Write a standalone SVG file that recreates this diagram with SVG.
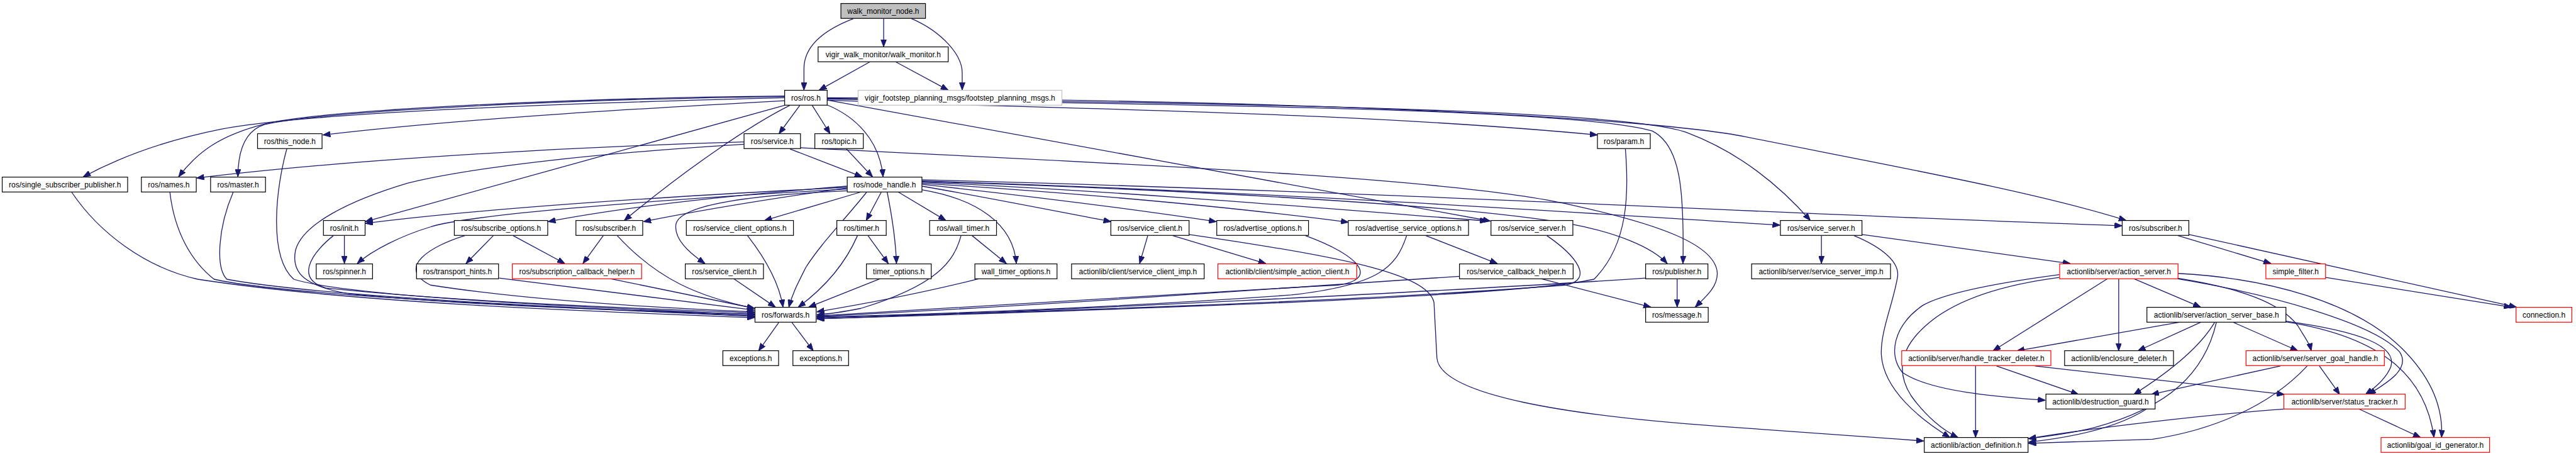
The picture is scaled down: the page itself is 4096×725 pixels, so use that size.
<svg xmlns="http://www.w3.org/2000/svg" width="4096" height="725" viewBox="0 0 4096 725">
<defs>
<style>
.e{fill:none;stroke:#191970;stroke-width:1.4;marker-end:url(#ah)}
.n rect{fill:#fff;stroke:#000;stroke-width:1.3}
.n.r rect{stroke:#ff0000}
.n.g rect{stroke:#bfbfbf}
.n.f rect{fill:#bfbfbf}
.n text{font-family:"Liberation Sans",Arial,sans-serif;font-size:13px;text-anchor:middle;fill:#000}
</style>
<marker id="ah" markerUnits="userSpaceOnUse" markerWidth="13" markerHeight="10" refX="13" refY="5" orient="auto"><path d="M0,0 L13,5 L0,10 z" fill="#191970" stroke="#191970" stroke-width="1"/></marker>
</defs>
<rect width="4096" height="725" fill="#fff"/>
<g transform="scale(0.925)">
<g id="edges">
<path class="e" d="M1467,32 C1415,52 1382,80 1382,118 L1382,155"/>
<path class="e" d="M1519,32 L1519,80.6"/>
<path class="e" d="M1567,32 C1620,55 1654,95 1654,125 L1654,155"/>
<path class="e" d="M1496,106 L1408,155"/>
<path class="e" d="M1539,106 L1630,155"/>
<path class="e" d="M1349,173 C1000,192 760,208 555,232"/>
<path class="e" d="M1349,168 C950,178 520,195 380,222 C290,240 210,268 143,304"/>
<path class="e" d="M1349,165 C1000,168 560,188 455,213 C380,232 340,260 307,304"/>
<path class="e" d="M1349,166 C1000,170 560,190 455,214 C420,225 409,260 409,304"/>
<path class="e" d="M1349,181 L628,381"/>
<path class="e" d="M1358,181 C1290,215 1180,290 1073,379"/>
<path class="e" d="M1375,181 L1339,230"/>
<path class="e" d="M1396,181 L1427,230"/>
<path class="e" d="M1421,180 C1470,200 1512,240 1518,304"/>
<path class="e" d="M1422,172 C1800,188 2300,190 2746,232"/>
<path class="e" d="M1422,170 C2000,180 2700,185 2840,225 C2890,250 2895,330 2893,453"/>
<path class="e" d="M1422,172 L2562,380"/>
<path class="e" d="M1422,169 C2200,178 2800,190 2900,228 C2990,262 3060,320 3112,379"/>
<path class="e" d="M1422,168 C2300,172 2850,205 3000,235 C3250,285 3500,330 3655,379"/>
<path class="e" d="M1358,256 L1482,304"/>
<path class="e" d="M1279,244 C1000,252 620,272 338,306"/>
<path class="e" d="M1279,248 C1000,265 800,290 700,315 C600,345 520,385 508,430 C500,470 525,492 600,505 C800,525 1100,535 1297,540"/>
<path class="e" d="M1376,254 C1900,280 2500,305 2700,352 C2850,385 2950,420 2952,470 C2952,495 2930,512 2914,528"/>
<path class="e" d="M1455,256 L1500,304"/>
<path class="e" d="M1456,322 C1100,340 800,362 628,384"/>
<path class="e" d="M1456,325 C1100,345 800,370 740,390 C690,405 640,430 614,453"/>
<path class="e" d="M1456,320 C1200,340 1050,360 942,381"/>
<path class="e" d="M1456,323 C1300,345 1200,362 1106,381"/>
<path class="e" d="M1480,330 L1314,379"/>
<path class="e" d="M1456,328 C1300,335 1170,350 1162,385 C1158,410 1185,435 1212,453"/>
<path class="e" d="M1490,330 C1450,380 1410,420 1385,460 C1370,490 1362,505 1356,528"/>
<path class="e" d="M1515,330 L1489,379"/>
<path class="e" d="M1525,330 C1535,380 1540,420 1541,453"/>
<path class="e" d="M1544,330 L1626,379"/>
<path class="e" d="M1584,326 C1680,342 1742,385 1747,453"/>
<path class="e" d="M1585,320 C1700,340 1800,360 1910,381"/>
<path class="e" d="M1585,317 C1800,340 1950,360 2091,381"/>
<path class="e" d="M1585,315 C1900,335 2150,360 2318,382"/>
<path class="e" d="M1585,313 C1950,330 2300,360 2557,380"/>
<path class="e" d="M1585,311 C2200,330 2700,365 3060,387"/>
<path class="e" d="M1585,309 C2400,330 3100,370 3648,388"/>
<path class="e" d="M1585,312 C2000,325 2500,350 2700,385 C2780,400 2840,425 2866,453"/>
<path class="e" d="M592,405 L592,453"/>
<path class="e" d="M848,405 L801,453"/>
<path class="e" d="M882,405 L971,453"/>
<path class="e" d="M1037,405 L1002,453"/>
<path class="e" d="M1492,405 L1527,453"/>
<path class="e" d="M1671,405 L1730,453"/>
<path class="e" d="M1973,405 L1959,453"/>
<path class="e" d="M2016,405 L2176,453"/>
<path class="e" d="M2044,403 C2300,440 2455,470 2465,520 L2470,615 C2475,680 2700,715 2960,733 C3100,743 3200,750 3307,758"/>
<path class="e" d="M2451,405 L2574,453"/>
<path class="e" d="M2649,479 L2838,528"/>
<path class="e" d="M2883,479 L2883,528"/>
<path class="e" d="M3131,405 L3131,453"/>
<path class="e" d="M3201,403 L3559,453"/>
<path class="e" d="M3187,405 C3235,425 3265,450 3262,475 C3255,520 3232,570 3234,610 C3238,670 3300,720 3352,752"/>
<path class="e" d="M3744,405 L3904,453"/>
<path class="e" d="M3763,403 L4326,528"/>
<path class="e" d="M3998,477 L4317,528"/>
<path class="e" d="M3540,472 C3420,488 3340,505 3305,525 C3255,560 3245,610 3270,640 C3320,675 3450,683 3516,688"/>
<path class="e" d="M3540,477 C3440,490 3360,515 3310,560 C3265,600 3260,640 3285,680 C3310,715 3340,740 3366,752"/>
<path class="e" d="M3623,479 L3426,603"/>
<path class="e" d="M3642,479 L3642,603"/>
<path class="e" d="M3668,479 L3783,528"/>
<path class="e" d="M3744,470 C3900,478 4050,520 4130,600 C4180,650 4200,700 4197,752"/>
<path class="e" d="M3742,478 C3850,495 3920,520 3950,560 C3962,580 3970,590 3973,603"/>
<path class="e" d="M3742,479 C3900,505 4080,555 4125,605 C4145,635 4100,660 4071,678"/>
<path class="e" d="M3746,554 L3467,603"/>
<path class="e" d="M3783,554 L3675,603"/>
<path class="e" d="M3807,554 C3780,600 3720,645 3668,678"/>
<path class="e" d="M3810,554 C3790,640 3730,700 3600,735 C3560,745 3520,750 3487,754"/>
<path class="e" d="M3929,553 C4100,580 4170,650 4184,752"/>
<path class="e" d="M3929,552 C4060,570 4120,595 4110,630 C4102,650 4085,665 4066,678"/>
<path class="e" d="M3839,554 L3950,603"/>
<path class="e" d="M3920,629 L3698,678"/>
<path class="e" d="M3966,629 C3900,700 3800,740 3700,755 L3487,762"/>
<path class="e" d="M3987,629 L4022,678"/>
<path class="e" d="M3927,703 C3800,712 3600,735 3487,754"/>
<path class="e" d="M4055,703 L4161,752"/>
<path class="e" d="M3396,629 L3396,752"/>
<path class="e" d="M3432,629 L3573,678"/>
<path class="e" d="M3498,629 L3927,678"/>
<path class="e" d="M3690,703 C3640,735 3560,752 3487,760"/>
<path class="e" d="M123,330 C170,400 250,460 340,480 C600,520 1000,535 1297,546"/>
<path class="e" d="M292,330 C300,400 330,450 368,480 C500,510 1000,530 1297,544"/>
<path class="e" d="M401,330 C375,390 370,460 390,480 C550,510 1000,530 1297,543"/>
<path class="e" d="M493,256 C475,320 460,440 505,480 C600,510 1000,528 1297,541"/>
<path class="e" d="M573,405 C530,440 510,480 560,495 C800,520 1100,530 1297,538"/>
<path class="e" d="M799,405 C740,423 680,460 740,490 C900,515 1100,528 1297,536"/>
<path class="e" d="M858,478 L1297,533"/>
<path class="e" d="M1049,479 L1297,530"/>
<path class="e" d="M1061,405 C1130,480 1200,510 1297,530"/>
<path class="e" d="M1261,479 L1333,528"/>
<path class="e" d="M1285,405 C1320,450 1340,490 1346,528"/>
<path class="e" d="M1474,405 C1450,460 1410,500 1372,528"/>
<path class="e" d="M1513,479 L1390,528"/>
<path class="e" d="M1652,405 C1640,450 1610,490 1480,530 C1440,538 1420,540 1404,541"/>
<path class="e" d="M1683,479 C1600,500 1500,520 1404,536"/>
<path class="e" d="M2244,405 C2340,440 2370,480 2300,490 C2000,505 1700,525 1404,543"/>
<path class="e" d="M2418,405 C2400,460 2370,490 2220,507 C1900,530 1600,540 1404,545"/>
<path class="e" d="M2509,475 C2200,495 1800,525 1404,544"/>
<path class="e" d="M2659,405 C2710,440 2740,480 2692,490 C2300,520 1800,535 1404,546"/>
<path class="e" d="M2794,256 C2800,330 2800,420 2740,480 C2600,510 2000,530 1404,548"/>
<path class="e" d="M2829,478 C2500,500 1800,535 1404,548"/>
<path class="e" d="M1339,554 L1304,603"/>
<path class="e" d="M1361,554 L1398,603"/>
</g>
<g id="nodes">
<g id="n0" class="n f"><rect x="1445.5" y="6" width="145.4" height="25.6"/><text x="1518.2" y="23.5">walk_monitor_node.h</text></g>
<g id="n1" class="n"><rect x="1406.3" y="80.6" width="223.7" height="25.6"/><text x="1518.2" y="98.1">vigir_walk_monitor/walk_monitor.h</text></g>
<g id="n2" class="n"><rect x="1348.8" y="155.2" width="73.1" height="25.6"/><text x="1385.4" y="172.7">ros/ros.h</text></g>
<g id="n3" class="n g"><rect x="1475" y="155.2" width="350.4" height="25.6"/><text x="1650.2" y="172.7">vigir_footstep_planning_msgs/footstep_planning_msgs.h</text></g>
<g id="n4" class="n"><rect x="442.7" y="229.8" width="110.9" height="25.6"/><text x="498.2" y="247.3">ros/this_node.h</text></g>
<g id="n5" class="n"><rect x="1279" y="229.8" width="97" height="25.6"/><text x="1327.5" y="247.3">ros/service.h</text></g>
<g id="n6" class="n"><rect x="1400.7" y="229.8" width="83.3" height="25.6"/><text x="1442.4" y="247.3">ros/topic.h</text></g>
<g id="n7" class="n"><rect x="2746" y="229.8" width="90.8" height="25.6"/><text x="2791.4" y="247.3">ros/param.h</text></g>
<g id="n8" class="n"><rect x="3.8" y="304.4" width="215.6" height="25.6"/><text x="111.6" y="321.9">ros/single_subscriber_publisher.h</text></g>
<g id="n9" class="n"><rect x="243" y="304.4" width="94.4" height="25.6"/><text x="290.2" y="321.9">ros/names.h</text></g>
<g id="n10" class="n"><rect x="362" y="304.4" width="94.4" height="25.6"/><text x="409.2" y="321.9">ros/master.h</text></g>
<g id="n11" class="n"><rect x="1456.4" y="304.4" width="128.4" height="25.6"/><text x="1520.6" y="321.9">ros/node_handle.h</text></g>
<g id="n12" class="n"><rect x="556" y="379" width="71.6" height="25.6"/><text x="591.8" y="396.5">ros/init.h</text></g>
<g id="n13" class="n"><rect x="781" y="379" width="160.5" height="25.6"/><text x="861.3" y="396.5">ros/subscribe_options.h</text></g>
<g id="n14" class="n"><rect x="990" y="379" width="114.8" height="25.6"/><text x="1047.4" y="396.5">ros/subscriber.h</text></g>
<g id="n15" class="n"><rect x="1179.8" y="379" width="184.1" height="25.6"/><text x="1271.9" y="396.5">ros/service_client_options.h</text></g>
<g id="n16" class="n"><rect x="1438.5" y="379" width="84.9" height="25.6"/><text x="1481" y="396.5">ros/timer.h</text></g>
<g id="n17" class="n"><rect x="1598" y="379" width="115" height="25.6"/><text x="1655.5" y="396.5">ros/wall_timer.h</text></g>
<g id="n18" class="n"><rect x="1909.5" y="379" width="134.5" height="25.6"/><text x="1976.8" y="396.5">ros/service_client.h</text></g>
<g id="n19" class="n"><rect x="2091.6" y="379" width="157.7" height="25.6"/><text x="2170.5" y="396.5">ros/advertise_options.h</text></g>
<g id="n20" class="n"><rect x="2317.7" y="379" width="206.7" height="25.6"/><text x="2421.1" y="396.5">ros/advertise_service_options.h</text></g>
<g id="n21" class="n"><rect x="2563" y="379" width="140.7" height="25.6"/><text x="2633.4" y="396.5">ros/service_server.h</text></g>
<g id="n22" class="n"><rect x="3060.5" y="379" width="140.2" height="25.6"/><text x="3130.6" y="396.5">ros/service_server.h</text></g>
<g id="n23" class="n"><rect x="3648" y="379" width="114.6" height="25.6"/><text x="3705.3" y="396.5">ros/subscriber.h</text></g>
<g id="n24" class="n"><rect x="543.6" y="453.6" width="96.8" height="25.6"/><text x="592" y="471.1">ros/spinner.h</text></g>
<g id="n25" class="n"><rect x="716" y="453.6" width="141" height="25.6"/><text x="786.5" y="471.1">ros/transport_hints.h</text></g>
<g id="n26" class="n r"><rect x="880.6" y="453.6" width="222.3" height="25.6"/><text x="991.8" y="471.1">ros/subscription_callback_helper.h</text></g>
<g id="n27" class="n"><rect x="1178" y="453.6" width="134.4" height="25.6"/><text x="1245.2" y="471.1">ros/service_client.h</text></g>
<g id="n28" class="n"><rect x="1489.4" y="453.6" width="111.4" height="25.6"/><text x="1545.1" y="471.1">timer_options.h</text></g>
<g id="n29" class="n"><rect x="1675.8" y="453.6" width="141.2" height="25.6"/><text x="1746.4" y="471.1">wall_timer_options.h</text></g>
<g id="n30" class="n"><rect x="1842" y="453.6" width="228" height="25.6"/><text x="1956" y="471.1">actionlib/client/service_client_imp.h</text></g>
<g id="n31" class="n r"><rect x="2093.5" y="453.6" width="238.8" height="25.6"/><text x="2212.9" y="471.1">actionlib/client/simple_action_client.h</text></g>
<g id="n32" class="n"><rect x="2508.8" y="453.6" width="195.4" height="25.6"/><text x="2606.5" y="471.1">ros/service_callback_helper.h</text></g>
<g id="n33" class="n"><rect x="2828.8" y="453.6" width="107.1" height="25.6"/><text x="2882.4" y="471.1">ros/publisher.h</text></g>
<g id="n34" class="n"><rect x="3011" y="453.6" width="238.8" height="25.6"/><text x="3130.4" y="471.1">actionlib/server/service_server_imp.h</text></g>
<g id="n35" class="n r"><rect x="3540.5" y="453.6" width="203.5" height="25.6"/><text x="3642.3" y="471.1">actionlib/server/action_server.h</text></g>
<g id="n36" class="n r"><rect x="3895" y="453.6" width="102.6" height="25.6"/><text x="3946.3" y="471.1">simple_filter.h</text></g>
<g id="n37" class="n"><rect x="1297.8" y="528.2" width="105.2" height="25.6"/><text x="1350.4" y="545.7">ros/forwards.h</text></g>
<g id="n38" class="n"><rect x="2828.8" y="528.2" width="107.6" height="25.6"/><text x="2882.6" y="545.7">ros/message.h</text></g>
<g id="n39" class="n"><rect x="3690.5" y="528.2" width="239" height="25.6"/><text x="3810" y="545.7">actionlib/server/action_server_base.h</text></g>
<g id="n40" class="n r"><rect x="4325" y="528.2" width="96" height="25.6"/><text x="4373" y="545.7">connection.h</text></g>
<g id="n41" class="n"><rect x="1242.6" y="602.8" width="95.8" height="25.6"/><text x="1290.5" y="620.3">exceptions.h</text></g>
<g id="n42" class="n"><rect x="1363" y="602.8" width="95.7" height="25.6"/><text x="1410.9" y="620.3">exceptions.h</text></g>
<g id="n43" class="n r"><rect x="3269" y="602.8" width="256.4" height="25.6"/><text x="3397.2" y="620.3">actionlib/server/handle_tracker_deleter.h</text></g>
<g id="n44" class="n"><rect x="3549" y="602.8" width="187.2" height="25.6"/><text x="3642.6" y="620.3">actionlib/enclosure_deleter.h</text></g>
<g id="n45" class="n r"><rect x="3860.9" y="602.8" width="237.8" height="25.6"/><text x="3979.8" y="620.3">actionlib/server/server_goal_handle.h</text></g>
<g id="n46" class="n"><rect x="3516.9" y="677.4" width="187.7" height="25.6"/><text x="3610.8" y="694.9">actionlib/destruction_guard.h</text></g>
<g id="n47" class="n r"><rect x="3926" y="677.4" width="208.4" height="25.6"/><text x="4030.2" y="694.9">actionlib/server/status_tracker.h</text></g>
<g id="n48" class="n"><rect x="3307.8" y="752" width="178.4" height="25.6"/><text x="3397" y="769.5">actionlib/action_definition.h</text></g>
<g id="n49" class="n r"><rect x="4093" y="752" width="186.5" height="25.6"/><text x="4186.3" y="769.5">actionlib/goal_id_generator.h</text></g>
</g>
</g>
</svg>
